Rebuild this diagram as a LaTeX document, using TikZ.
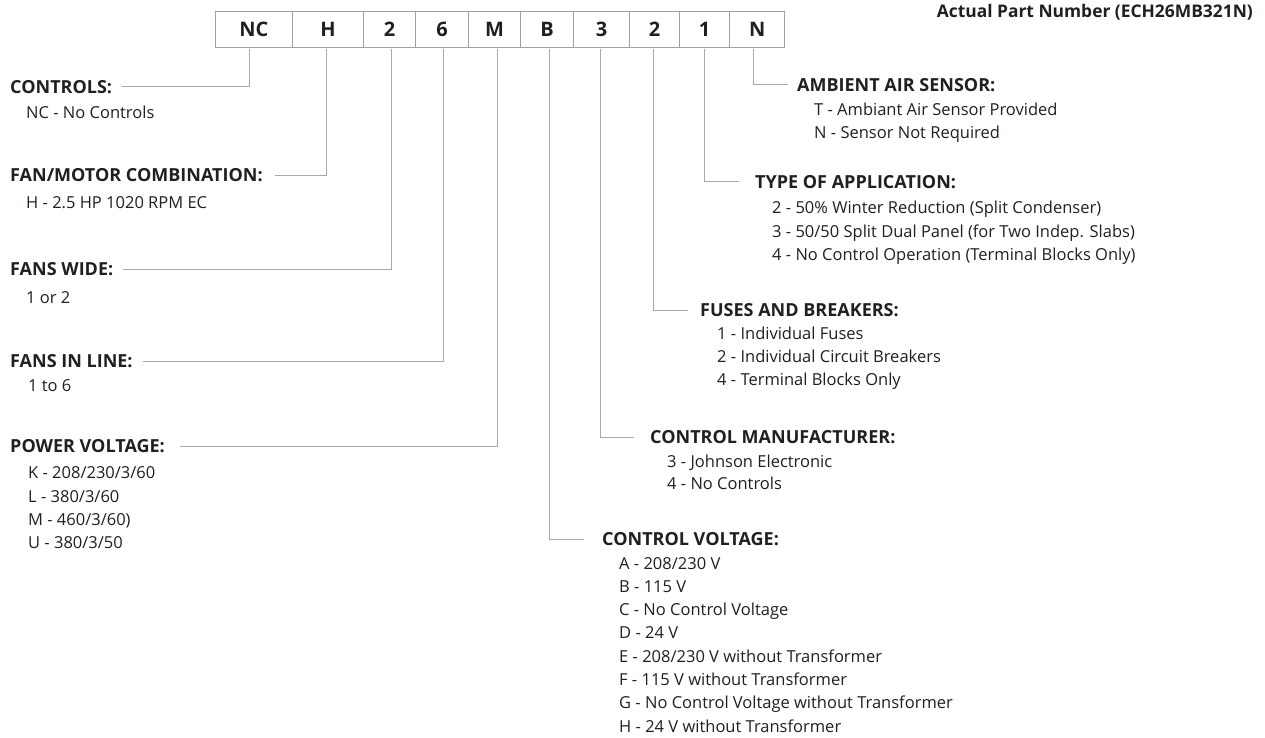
\documentclass[tikz,border=0pt]{standalone}
\usepackage{fontspec}
\setmainfont{Open Sans}
\definecolor{ink}{HTML}{231F20}
\definecolor{linegray}{HTML}{A7A9AC}
\definecolor{boxgray}{HTML}{A0A0A0}
\begin{document}
\begin{tikzpicture}[x=1pt,y=-1pt,
  lead/.style={draw=linegray, line width=1pt},
  hd/.style={anchor=base west, inner sep=0pt, font=\fontsize{18}{18}\selectfont\bfseries, text=ink},
  itm/.style={anchor=base west, inner sep=0pt, font=\fontsize{16.5}{16.5}\selectfont, text=ink},
  ttl/.style={anchor=base east, inner sep=0pt, font=\fontsize{17.4}{17.4}\selectfont\bfseries, text=ink},
  cell/.style={draw=boxgray, line width=1.3pt, minimum height=36pt, inner sep=0pt,
    text height=14.3pt, text depth=0pt, font=\fontsize{20}{20}\selectfont\bfseries, text=ink, anchor=north west}]
\useasboundingbox[fill=white] (0,0) rectangle (1265,738);

% title
\node[ttl] (title) at (1253,17.2) {Actual Part Number (ECH26MB321N)};

% part number cells
\node[cell, minimum width=76.5pt] (cNC) at (215,11) {NC};
\node[cell, minimum width=71.5pt] (cH)  at (291.5,11) {H};
\node[cell, minimum width=52pt] (cW)  at (363,11) {2};
\node[cell, minimum width=53pt] (cL)  at (415,11) {6};
\node[cell, minimum width=52pt] (cM)  at (468,11) {M};
\node[cell, minimum width=53pt] (cB)  at (520,11) {B};
\node[cell, minimum width=56pt] (cC)  at (573,11) {3};
\node[cell, minimum width=50pt] (cF)  at (629,11) {2};
\node[cell, minimum width=50pt] (cA)  at (679,11) {1};
\node[cell, minimum width=55pt] (cN)  at (729,11) {N};

% left headings and items
\node[hd] (hCON) at (10,93.4) {CONTROLS:};
\node[itm] (iCON) at (26,118.9) {NC - No Controls};
\node[hd] (hFM) at (10,181.9) {FAN/MOTOR COMBINATION:};
\node[itm] (iFM) at (26,208.9) {H - 2.5 HP 1020 RPM EC};
\node[hd] (hFW) at (10,275.4) {FANS WIDE:};
\node[itm] (iFW) at (26,303.9) {1 or 2};
\node[hd] (hFL) at (10,367.9) {FANS IN LINE:};
\node[itm] (iFL) at (28,391.9) {1 to 6};
\node[hd] (hPV) at (10,452.9) {POWER VOLTAGE:};
\node[itm] (iPV1) at (28,478.9) {K - 208/230/3/60};
\node[itm] (iPV2) at (28,502.9) {L - 380/3/60};
\node[itm] (iPV3) at (28,525.9) {M - 460/3/60)};
\node[itm] (iPV4) at (28,548.9) {U - 380/3/50};

% right headings and items
\node[hd] (hAS) at (797,91.4) {AMBIENT AIR SENSOR:};
\node[itm] (iAS1) at (814,115.9) {T - Ambiant Air Sensor Provided};
\node[itm] (iAS2) at (814,138.9) {N - Sensor Not Required};
\node[hd] (hTA) at (755,188.4) {TYPE OF APPLICATION:};
\node[itm] (iTA1) at (772,213.9) {2 - 50\% Winter Reduction (Split Condenser)};
\node[itm] (iTA2) at (772,237.9) {3 - 50/50 Split Dual Panel (for Two Indep. Slabs)};
\node[itm] (iTA3) at (772,260.9) {4 - No Control Operation (Terminal Blocks Only)};
\node[hd] (hFB) at (700,316.4) {FUSES AND BREAKERS:};
\node[itm] (iFB1) at (717,339.9) {1 - Individual Fuses};
\node[itm] (iFB2) at (717,362.9) {2 - Individual Circuit Breakers};
\node[itm] (iFB3) at (717,385.9) {4 - Terminal Blocks Only};
\node[hd] (hCM) at (650,443.4) {CONTROL MANUFACTURER:};
\node[itm] (iCM1) at (667,467.9) {3 - Johnson Electronic};
\node[itm] (iCM2) at (667,489.9) {4 - No Controls};
\node[hd] (hCV) at (602,545.4) {CONTROL VOLTAGE:};
\node[itm] (iCV1) at (619,569.9) {A - 208/230 V};
\node[itm] (iCV2) at (619,592.9) {B - 115 V};
\node[itm] (iCV3) at (619,615.9) {C - No Control Voltage};
\node[itm] (iCV4) at (619,638.9) {D - 24 V};
\node[itm] (iCV5) at (619,662.9) {E - 208/230 V without Transformer};
\node[itm] (iCV6) at (619,685.9) {F - 115 V without Transformer};
\node[itm] (iCV7) at (619,708.9) {G - No Control Voltage without Transformer};
\node[itm] (iCV8) at (619,732.9) {H - 24 V without Transformer};

% leader coordinates
\coordinate (tNC) at (249,49);  \coordinate (eNC) at (122,87);
\coordinate (tH)  at (326,49);  \coordinate (eH)  at (275,175.5);
\coordinate (tW)  at (391,49);  \coordinate (eW)  at (123,269);
\coordinate (tL)  at (443,49);  \coordinate (eL)  at (143,361.5);
\coordinate (tM)  at (497,49);  \coordinate (eM)  at (180,446.5);
\coordinate (tB)  at (549,49);  \coordinate (eB)  at (584,539);
\coordinate (tC)  at (600,49);  \coordinate (eC)  at (634,437);
\coordinate (tF)  at (653,49);  \coordinate (eF)  at (688,310);
\coordinate (tA)  at (704,49);  \coordinate (eA)  at (739,182);
\coordinate (tN)  at (753,49);  \coordinate (eN)  at (788,85);

\draw[lead] (tNC) |- (eNC);
\draw[lead] (tH) |- (eH);
\draw[lead] (tW) |- (eW);
\draw[lead] (tL) |- (eL);
\draw[lead] (tM) |- (eM);
\draw[lead] (tB) |- (eB);
\draw[lead] (tC) |- (eC);
\draw[lead] (tF) |- (eF);
\draw[lead] (tA) |- (eA);
\draw[lead] (tN) |- (eN);
\end{tikzpicture}
\end{document}
